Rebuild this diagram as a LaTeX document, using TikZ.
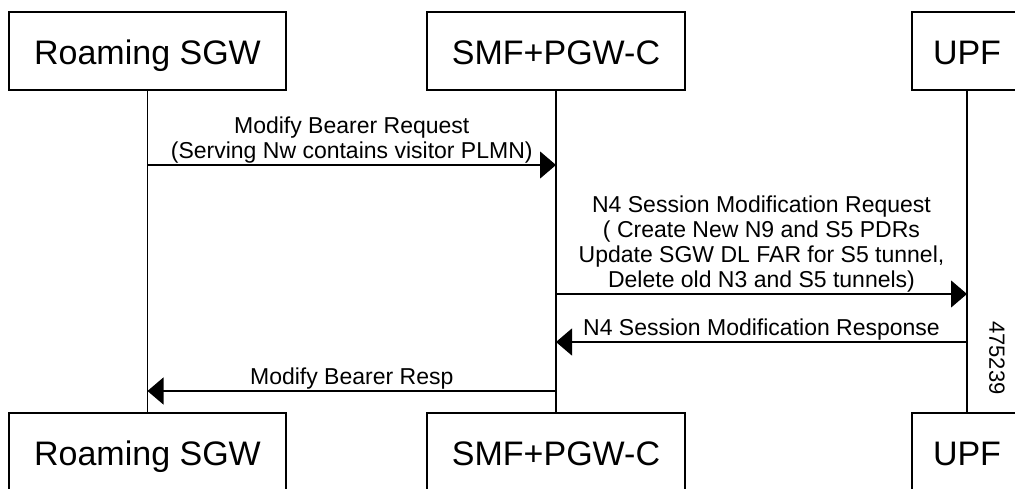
\documentclass[tikz,border=0pt]{standalone}
\usepackage{fontspec}
\setmainfont{Liberation Sans}
\usetikzlibrary{arrows.meta}
\tikzstyle{entity} = [
  rectangle,
  minimum height=78pt,
  text height=31pt,
  text depth=4pt,
  text centered,
  draw=black,
  line width=1.4pt,
  font=\fontsize{34}{40}\selectfont
]
\tikzstyle{lifeline} = [line width=1.2pt]
\tikzstyle{msg} = [line width=1.2pt, -{Triangle[length=16pt, width=27pt]}]
\tikzstyle{msglabel} = [
  align=center,
  inner sep=1pt,
  font=\fontsize{23}{25}\selectfont
]

\begin{document}
\begin{tikzpicture}[x=1pt, y=-1pt]
    \useasboundingbox (0,0) rectangle (1015,489);
    \clip (0,0) rectangle (1015,489);

    \node (sgw-top) [entity, minimum width=277pt] at (147.5,51) {Roaming SGW};
    \node (smf-top) [entity, minimum width=258pt] at (556,51) {SMF+PGW-C};
    \node (upf-top) [entity, minimum width=110pt] at (967,51) {UPF};
    \node (sgw-bot) [entity, minimum width=277pt] at (147.5,452) {Roaming SGW};
    \node (smf-bot) [entity, minimum width=258pt] at (556,452) {SMF+PGW-C};
    \node (upf-bot) [entity, minimum width=110pt] at (967,452) {UPF};

    \draw [lifeline] (sgw-top) -- (sgw-bot);
    \draw [lifeline] (smf-top) -- (smf-bot);
    \draw [lifeline] (upf-top) -- (upf-bot);

    \coordinate (mb-req) at (0,165);
    \coordinate (n4-req) at (0,294);
    \coordinate (n4-resp) at (0,342);
    \coordinate (mb-resp) at (0,391);

    \draw [msg] (sgw-top |- mb-req) -- node[msglabel, above] {Modify Bearer Request\\(Serving Nw contains visitor PLMN)} (smf-top |- mb-req);
    \draw [msg] (smf-top |- n4-req) -- node[msglabel, above] {N4 Session Modification Request\\( Create New N9 and S5 PDRs\\Update SGW DL FAR for S5 tunnel,\\Delete old N3 and S5 tunnels)} (upf-top |- n4-req);
    \draw [msg] (upf-top |- n4-resp) -- node[msglabel, above] {N4 Session Modification Response} (smf-top |- n4-resp);
    \draw [msg] (smf-top |- mb-resp) -- node[msglabel, above] {Modify Bearer Resp} (sgw-top |- mb-resp);

    \node (fig-id) [rotate=-90, font=\fontsize{22}{24}\selectfont] at (997,358) {475239};
  \end{tikzpicture}
\end{document}
